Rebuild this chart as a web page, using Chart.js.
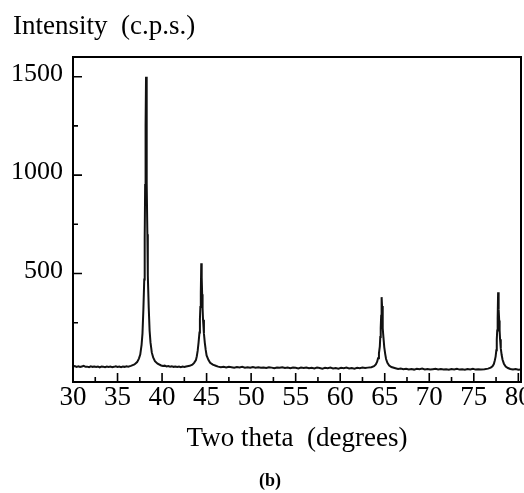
<!DOCTYPE html>
<html>
<head>
<meta charset="utf-8">
<script src="https://cdn.jsdelivr.net/npm/chart.js@4.4.1/dist/chart.umd.min.js"></script>
<style>
  body { margin: 0; background: #fff; overflow: hidden; }
  #wrap { position: relative; width: 524px; height: 493px; overflow: hidden; }
  #chart { position: absolute; left: 0; top: 0; }
  .lbl { position: absolute; font-family: "Liberation Serif", "Times New Roman", serif; color: #000; white-space: pre; }
</style>
</head>
<body>
<div id="wrap">
  <canvas id="chart" width="545" height="493"></canvas>
  <div class="lbl" style="left:13px; top:12px; font-size:27px; line-height:27px;">Intensity  (c.p.s.)</div>
  <div class="lbl" style="left:259px; top:471px; font-size:18px; line-height:18px; font-weight:bold;">(b)</div>
</div>
<script>
// XRD pattern: two theta (degrees) and counts per second
// each line of twoTheta matches the same line of counts
const twoTheta = [
  30.0, 30.2, 30.4, 30.6, 30.8, 31.0, 31.2, 31.4, 31.6, 31.8, 32.0, 32.2, 32.4, 32.6, 32.8, 33.0,
  33.2, 33.4, 33.6, 33.8, 34.0, 34.2, 34.4, 34.6, 34.8, 35.0, 35.2, 35.4, 35.6, 35.8, 36.0, 36.2,
  // peak ~38.2
  36.5, 36.9, 37.2, 37.4, 37.55, 37.7, 37.8, 37.9, 38.0, 38.05, 38.1, 38.15, 38.2,
  38.25, 38.3, 38.35, 38.4, 38.5, 38.6, 38.7, 38.85, 39.0, 39.2, 39.5, 39.9,
  40.1, 40.3, 40.5, 40.7, 40.9, 41.1, 41.3, 41.5, 41.7, 41.9, 42.1, 42.3, 42.5,
  // peak ~44.4
  42.7, 43.1, 43.4, 43.6, 43.8, 43.9, 44.0, 44.1, 44.2, 44.25, 44.3, 44.35, 44.4,
  44.45, 44.5, 44.55, 44.6, 44.7, 44.8, 44.9, 45.0, 45.2, 45.4, 45.7, 46.1,
  46.3, 46.6, 46.9, 47.2, 47.5, 47.8, 48.1, 48.4, 48.7, 49.0,
  49.3, 49.6, 49.9, 50.2, 50.5, 50.8, 51.1, 51.4, 51.7, 52.0,
  52.3, 52.6, 52.9, 53.2, 53.5, 53.8, 54.1, 54.4, 54.7, 55.0,
  55.3, 55.6, 55.9, 56.2, 56.5, 56.8, 57.1, 57.4, 57.7, 58.0,
  58.3, 58.6, 58.9, 59.2, 59.5, 59.8, 60.1, 60.4, 60.7, 61.0,
  61.3, 61.6, 61.9, 62.2, 62.5, 62.8,
  // peak ~64.65
  63.1, 63.5, 63.8, 64.0, 64.15, 64.25, 64.35, 64.45, 64.5, 64.55, 64.6, 64.65,
  64.7, 64.75, 64.8, 64.85, 64.95, 65.05, 65.15, 65.3, 65.5, 65.75, 66.2,
  66.5, 66.8, 67.1, 67.4, 67.7, 68.0, 68.3, 68.6, 68.9, 69.2,
  69.5, 69.8, 70.1, 70.4, 70.7, 71.0, 71.3, 71.6, 71.9, 72.2,
  72.5, 72.8, 73.1, 73.4, 73.7, 74.0, 74.3, 74.6, 74.9, 75.2,
  75.5, 75.8,
  // peak ~77.7
  76.2, 76.6, 76.9, 77.1, 77.25, 77.35, 77.45, 77.53, 77.58, 77.63, 77.68, 77.73,
  77.77, 77.81, 77.85, 77.9, 77.95, 78.03, 78.13, 78.23, 78.38, 78.58, 78.83, 79.1,
  79.4, 79.7, 80.0, 80.3
];
const counts = [
  27, 30, 26, 29, 25, 28, 31, 26, 27, 24, 29, 26, 28, 25, 27, 23,
  28, 26, 24, 27, 25, 28, 24, 26, 29, 25, 27, 24, 28, 26, 29, 27,

  31, 38, 50, 68, 88, 138, 195, 315, 470, 680, 950, 1250, 1500,
  1260, 960, 700, 490, 330, 210, 150, 98, 74, 55, 42, 33,
  30, 32, 28, 30, 27, 29, 26, 28, 25, 27, 24, 27, 25,

  28, 31, 37, 46, 60, 80, 108, 150, 200, 268, 330, 400, 552,
  480, 395, 325, 265, 195, 148, 112, 84, 62, 47, 37, 30,
  27, 24, 26, 23, 26, 24, 22, 25, 23, 26,
  22, 24, 21, 25, 22, 24, 21, 23, 20, 24,
  22, 19, 23, 21, 24, 20, 22, 19, 23, 21,
  18, 22, 20, 23, 19, 21, 18, 22, 20, 17,
  21, 19, 22, 18, 20, 17, 21, 19, 22, 18,
  20, 17, 21, 19, 22, 20,

  22, 24, 29, 38, 52, 70, 95, 130, 178, 225, 285, 380,
  335, 280, 222, 178, 125, 92, 66, 46, 33, 25, 19,
  15, 17, 14, 16, 13, 15, 12, 16, 14, 17,
  13, 15, 12, 14, 16, 13, 15, 12, 14, 11,
  15, 13, 16, 12, 14, 11, 15, 13, 16, 12,
  14, 13,

  14, 17, 22, 29, 40, 57, 78, 110, 165, 210, 272, 405,
  332, 318, 262, 210, 166, 120, 86, 62, 42, 28, 20, 15,
  12, 15, 11, 13
];

const xMajor = [30, 35, 40, 45, 50, 55, 60, 65, 70, 75, 80];
const xMinor = [32.5, 37.5, 42.5, 47.5, 52.5, 57.5, 62.5, 67.5, 72.5, 77.5];
const yMajor = [500, 1000, 1500];
const yMinor = [250, 750, 1250];

const serif = '"Liberation Serif", "Times New Roman", serif';

// box round the plot, ticks pointing inwards
const frame = {
  id: 'frame',
  afterDraw(chart) {
    const ctx = chart.ctx;
    const a = chart.chartArea;
    const xs = chart.scales.x, ys = chart.scales.y;
    ctx.save();
    ctx.strokeStyle = '#000';
    ctx.lineWidth = 2;
    ctx.strokeRect(a.left, a.top, a.right - a.left, a.bottom - a.top);
    ctx.lineWidth = 1.6;
    ctx.beginPath();
    xMajor.forEach(v => { const p = xs.getPixelForValue(v); ctx.moveTo(p, a.bottom); ctx.lineTo(p, a.bottom - 9); });
    xMinor.forEach(v => { const p = xs.getPixelForValue(v); ctx.moveTo(p, a.bottom); ctx.lineTo(p, a.bottom - 5); });
    yMajor.forEach(v => { const p = ys.getPixelForValue(v); ctx.moveTo(a.left, p); ctx.lineTo(a.left + 9, p); });
    yMinor.forEach(v => { const p = ys.getPixelForValue(v); ctx.moveTo(a.left, p); ctx.lineTo(a.left + 5, p); });
    ctx.stroke();
    ctx.restore();
  }
};

new Chart(document.getElementById('chart').getContext('2d'), {
  type: 'line',
  data: {
    datasets: [{
      data: twoTheta.map((t, i) => ({ x: t, y: counts[i] })),
      borderColor: '#111',
      borderWidth: 2,
      pointRadius: 0,
      tension: 0,
      fill: false
    }]
  },
  options: {
    responsive: false,
    animation: false,
    layout: { padding: { left: 0, right: 24, top: 57, bottom: 34 } },
    plugins: { legend: { display: false }, tooltip: { enabled: false } },
    scales: {
      x: {
        type: 'linear',
        min: 30,
        max: 80.3,
        grid: { display: false, drawTicks: false },
        border: { display: false },
        afterBuildTicks: s => { s.ticks = xMajor.map(v => ({ value: v })); },
        afterFit: s => { s.height = 77; },
        ticks: { color: '#000', font: { family: serif, size: 27 }, padding: 0, maxRotation: 0, callback: v => String(v) },
        title: { display: true, text: 'Two theta  (degrees)', color: '#000', font: { family: serif, size: 27 }, padding: { top: 0, bottom: 4 } }
      },
      y: {
        min: -51,
        max: 1600,
        grid: { display: false, drawTicks: false },
        border: { display: false },
        afterBuildTicks: s => { s.ticks = yMajor.map(v => ({ value: v })); },
        afterFit: s => { s.width = 73; },
        ticks: { color: '#000', font: { family: serif, size: 26 }, padding: 10, labelOffset: -2.5, callback: v => String(v) }
      }
    }
  },
  plugins: [frame]
});
</script>
</body>
</html>
